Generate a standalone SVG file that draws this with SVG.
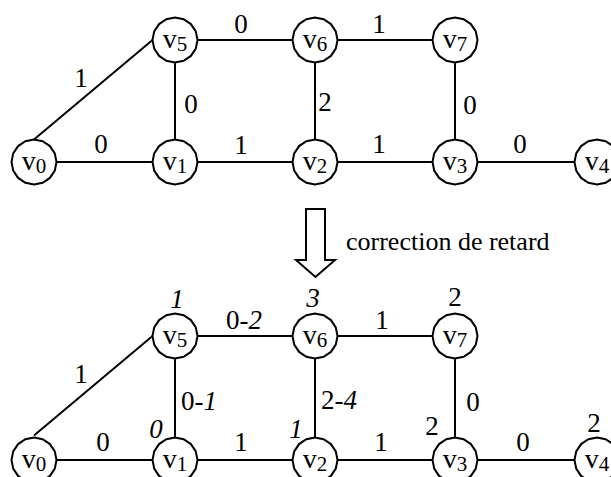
<svg xmlns="http://www.w3.org/2000/svg" width="611" height="477" viewBox="0 0 611 477" font-family="'Liberation Serif', 'Times New Roman', serif">
  <style>
    .edge { stroke: #000; stroke-width: 2; fill: none; }
    .node { fill: #fff; stroke: #000; stroke-width: 2; }
    svg text, svg tspan { font-family: 'Liberation Serif', 'Times New Roman', serif !important; fill: #000; }
    .nv { font-size: 28px; text-anchor: middle; }
    .sub { font-size: 21px; }
    .lbl { font-size: 27px; text-anchor: middle; }
    .lblL { font-size: 27px; text-anchor: start; }
    .it { font-style: italic; }
    .cap { font-size: 26px; }
  </style>
  <defs>
    <!-- faceted node outline, 16 sides -->
    <polygon id="ring" points="22.5,0 20.79,8.61 15.91,15.91 8.61,20.79 0,22.5 -8.61,20.79 -15.91,15.91 -20.79,8.61 -22.5,0 -20.79,-8.61 -15.91,-15.91 -8.61,-20.79 0,-22.5 8.61,-20.79 15.91,-15.91 20.79,-8.61"/>
  </defs>
  <rect width="611" height="477" fill="#fff"/>

  <!-- upper graph: connectors -->
  <g id="edges-top">
    <line class="edge" x1="34" y1="139.5" x2="152.5" y2="40"/>
    <line class="edge" x1="175" y1="40" x2="315" y2="40"/>
    <line class="edge" x1="315" y1="40" x2="455" y2="40"/>
    <line class="edge" x1="175" y1="40" x2="175" y2="162"/>
    <line class="edge" x1="315" y1="40" x2="315" y2="162"/>
    <line class="edge" x1="455" y1="40" x2="455" y2="162"/>
    <line class="edge" x1="34" y1="162" x2="597" y2="162"/>
  </g>
  <g id="edge-labels-top">
    <text class="lbl" x="241" y="33">0</text>
    <text class="lbl" x="379" y="33">1</text>
    <text class="lbl" x="81" y="87">1</text>
    <text class="lbl" x="191" y="113">0</text>
    <text class="lbl" x="325" y="111">2</text>
    <text class="lbl" x="470" y="114">0</text>
    <text class="lbl" x="101" y="153">0</text>
    <text class="lbl" x="241" y="154">1</text>
    <text class="lbl" x="379" y="153">1</text>
    <text class="lbl" x="520" y="153">0</text>
  </g>

  <!-- upper graph: nodes -->
  <g id="t-v0"><use href="#ring" class="node" x="34" y="162"/><text class="nv" x="34" y="170">v<tspan class="sub" dy="3">0</tspan></text></g>
  <g id="t-v1"><use href="#ring" class="node" x="175" y="162"/><text class="nv" x="175" y="170">v<tspan class="sub" dy="3">1</tspan></text></g>
  <g id="t-v2"><use href="#ring" class="node" x="315" y="162"/><text class="nv" x="315" y="170">v<tspan class="sub" dy="3">2</tspan></text></g>
  <g id="t-v3"><use href="#ring" class="node" x="455" y="162"/><text class="nv" x="455" y="170">v<tspan class="sub" dy="3">3</tspan></text></g>
  <g id="t-v4"><use href="#ring" class="node" x="597" y="162"/><text class="nv" x="597" y="170">v<tspan class="sub" dy="3">4</tspan></text></g>
  <g id="t-v5"><use href="#ring" class="node" x="175" y="40"/><text class="nv" x="175" y="48">v<tspan class="sub" dy="3">5</tspan></text></g>
  <g id="t-v6"><use href="#ring" class="node" x="315" y="40"/><text class="nv" x="315" y="48">v<tspan class="sub" dy="3">6</tspan></text></g>
  <g id="t-v7"><use href="#ring" class="node" x="455" y="40"/><text class="nv" x="455" y="48">v<tspan class="sub" dy="3">7</tspan></text></g>

  <!-- hollow down arrow with caption -->
  <g id="arrow">
    <polygon class="node" points="306,209 325,209 325,260 335,260 315.5,277 296,260 306,260"/>
    <text class="cap" x="346" y="250">correction de retard</text>
  </g>

  <!-- lower graph: connectors -->
  <g id="edges-bottom">
    <line class="edge" x1="34" y1="435.5" x2="152.5" y2="336"/>
    <line class="edge" x1="175" y1="336" x2="315" y2="336"/>
    <line class="edge" x1="315" y1="336" x2="455" y2="336"/>
    <line class="edge" x1="175" y1="336" x2="175" y2="460"/>
    <line class="edge" x1="315" y1="336" x2="315" y2="460"/>
    <line class="edge" x1="455" y1="336" x2="455" y2="460"/>
    <line class="edge" x1="34" y1="460" x2="597" y2="460"/>
  </g>
  <g id="edge-labels-bottom">
    <text class="lblL" x="226" y="329">0-<tspan class="it">2</tspan></text>
    <text class="lbl" x="382" y="329">1</text>
    <text class="lbl" x="81" y="383">1</text>
    <text class="lblL" x="181" y="410">0-<tspan class="it">1</tspan></text>
    <text class="lblL" x="321" y="409">2-<tspan class="it">4</tspan></text>
    <text class="lbl" x="473" y="411">0</text>
    <text class="lbl" x="103" y="451">0</text>
    <text class="lbl" x="241" y="451">1</text>
    <text class="lbl" x="381" y="451">1</text>
    <text class="lbl" x="523" y="451">0</text>
  </g>
  <!-- retiming values beside the nodes -->
  <g id="node-values">
    <text class="lbl it" x="177" y="308">1</text>
    <text class="lbl it" x="313" y="307">3</text>
    <text class="lbl" x="455" y="306">2</text>
    <text class="lbl it" x="156" y="438">0</text>
    <text class="lbl it" x="296" y="438">1</text>
    <text class="lbl" x="432" y="435">2</text>
    <text class="lbl" x="594" y="432">2</text>
  </g>

  <!-- lower graph: nodes -->
  <g id="b-v0"><use href="#ring" class="node" x="34" y="460"/><text class="nv" x="34" y="468">v<tspan class="sub" dy="3">0</tspan></text></g>
  <g id="b-v1"><use href="#ring" class="node" x="175" y="460"/><text class="nv" x="175" y="468">v<tspan class="sub" dy="3">1</tspan></text></g>
  <g id="b-v2"><use href="#ring" class="node" x="315" y="460"/><text class="nv" x="315" y="468">v<tspan class="sub" dy="3">2</tspan></text></g>
  <g id="b-v3"><use href="#ring" class="node" x="455" y="460"/><text class="nv" x="455" y="468">v<tspan class="sub" dy="3">3</tspan></text></g>
  <g id="b-v4"><use href="#ring" class="node" x="597" y="460"/><text class="nv" x="597" y="468">v<tspan class="sub" dy="3">4</tspan></text></g>
  <g id="b-v5"><use href="#ring" class="node" x="175" y="336"/><text class="nv" x="175" y="344">v<tspan class="sub" dy="3">5</tspan></text></g>
  <g id="b-v6"><use href="#ring" class="node" x="315" y="336"/><text class="nv" x="315" y="344">v<tspan class="sub" dy="3">6</tspan></text></g>
  <g id="b-v7"><use href="#ring" class="node" x="455" y="336"/><text class="nv" x="455" y="344">v<tspan class="sub" dy="3">7</tspan></text></g>
</svg>
